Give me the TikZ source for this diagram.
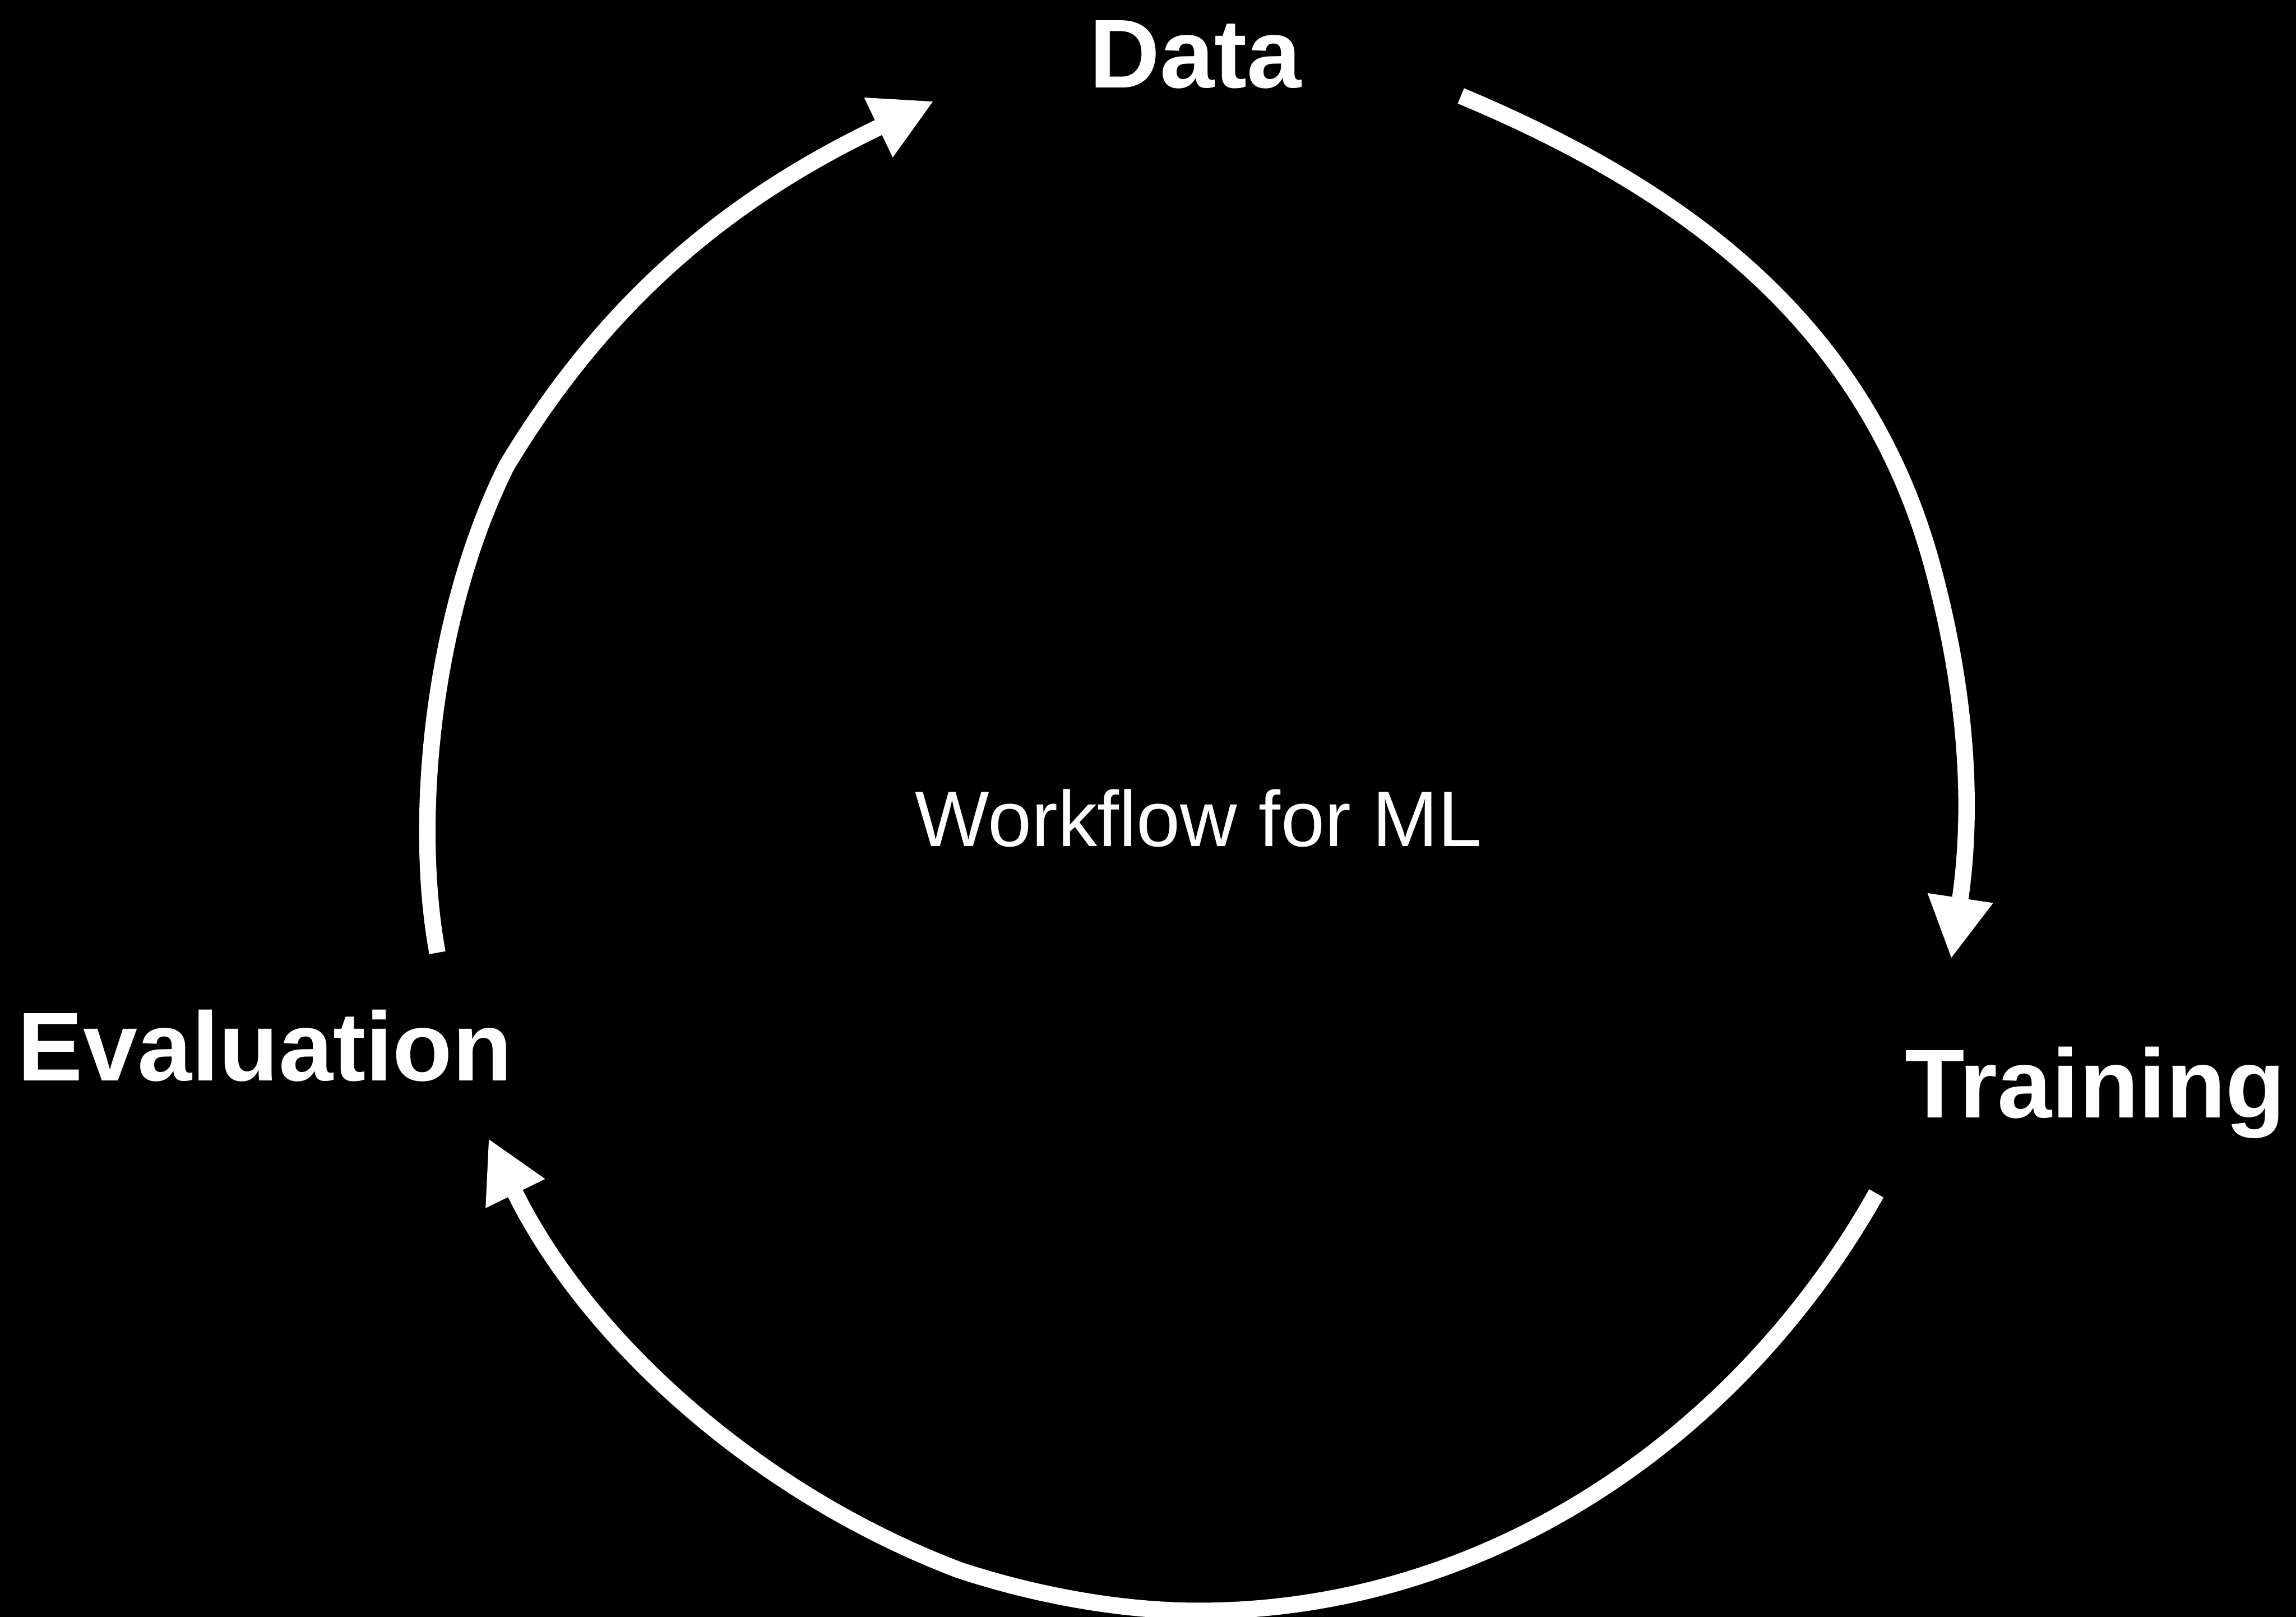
\documentclass[tikz,border=0pt]{standalone}
\usepackage{fontspec}
\setmainfont{Liberation Sans}
\usepackage{xcolor}
\definecolor{bgblack}{rgb}{0,0,0}
\definecolor{inkwhite}{rgb}{1,1,1}
\usepackage{tikz}
\usetikzlibrary{arrows.meta,positioning}
\tikzset{
  >={Triangle[length=4.2mm,width=4.2mm]},
  stage/.style={inner sep=0pt,anchor=base,text=inkwhite,font=\fontsize{19}{22}\selectfont\bfseries},
  caption/.style={inner sep=0pt,anchor=base,text=inkwhite,font=\fontsize{15.3}{18}\selectfont},
  flow/.style={->,line width=3.2pt,draw=inkwhite}
}

\begin{document}
\begin{tikzpicture}
  % Canvas
  \fill[bgblack] (0,0) rectangle (15.68,11.04);
  \useasboundingbox (0,0) rectangle (15.68,11.04);

  % Three stages and the title
  \node[stage] (data) at (8.165,10.44) {Data};
  \node[stage] (train) at (14.31,3.41) {Training};
  \node[stage] (eval) at (1.81,3.66) {Evaluation};
  \node[caption] (title) at (8.185,5.26) {Workflow for ML};

  % Ends of the arcs
  \coordinate (evalOut) at (2.987,4.535);
  \coordinate (dataIn) at (6.378,10.35);
  \coordinate (dataOut) at (9.977,10.385);
  \coordinate (trainIn) at (13.325,4.493);
  \coordinate (trainOut) at (12.814,2.892);
  \coordinate (evalIn) at (3.335,3.268);

  % Cycle
  \draw[flow] (evalOut) .. controls (2.82,5.44) and (2.95,6.84) .. (3.46,7.86)
    .. controls (4.20,9.09) and (5.10,9.74) .. (dataIn);
  \draw[flow] (dataOut) .. controls (11.443,9.77) and (12.728,8.878) .. (13.192,7.191)
    .. controls (13.470,6.179) and (13.46,5.392) .. (trainIn);
  \draw[flow] (trainOut) .. controls (11.86,1.199) and (10.131,0.041) .. (8.187,0.041)
    .. controls (7.637,0.041) and (7.05,0.155) .. (6.55,0.32)
    .. controls (5.142,0.855) and (3.996,1.916) .. (evalIn);
\end{tikzpicture}
\end{document}
